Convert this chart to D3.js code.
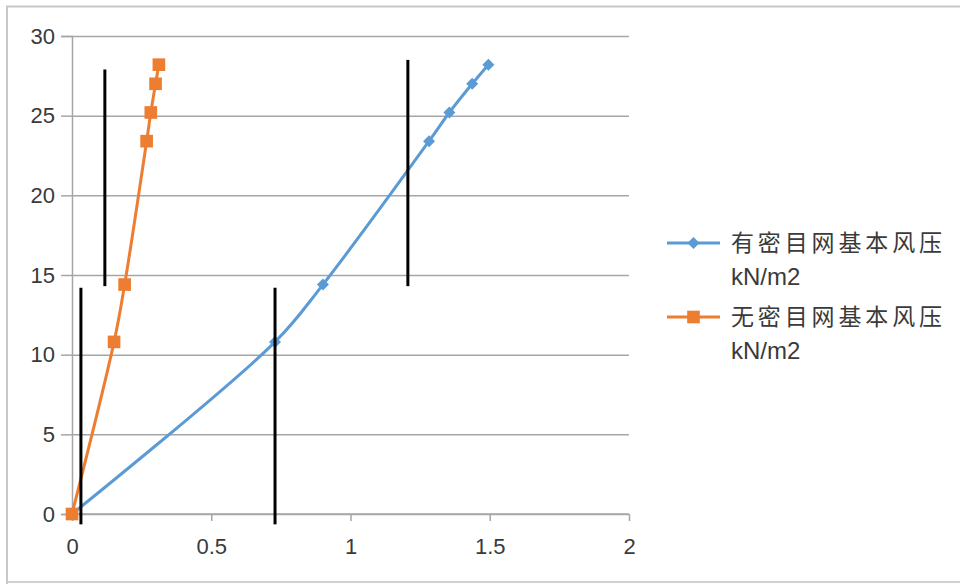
<!DOCTYPE html>
<html><head><meta charset="utf-8">
<script src="https://cdn.jsdelivr.net/npm/d3@7/dist/d3.min.js"></script>
<style>
html,body{margin:0;padding:0;background:#fff;}
svg{display:block;font-family:"Liberation Sans","Open Sans",sans-serif;}
</style></head>
<body><svg id="chart" width="960" height="584"></svg>
<script>
// ---- data ----
const heights = [0, 10.8, 14.4, 23.4, 25.2, 27.0, 28.2];
const withNet = [0, 0.729, 0.901, 1.282, 1.355, 1.437, 1.495];
const withoutNet = [0, 0.151, 0.189, 0.268, 0.283, 0.300, 0.312];
const seriesNames = ["有密目网基本风压", "无密目网基本风压"];
const seriesUnit = "kN/m2";
const xTicks = [0, 0.5, 1, 1.5, 2];
const yTicks = [0, 5, 10, 15, 20, 25, 30];
// hand-drawn black annotation marks (data coords)
const markX = [0.118, 1.206, 0.032, 0.729];
const markY1 = [27.9, 28.5, 14.2, 14.2];
const markY2 = [14.3, 14.3, -0.65, -0.65];

const colors = ["#5B9BD5", "#ED7D31"];
const textColor = "#3a3a3a";
const svg = d3.select("#chart");

// outer border
svg.append("path").attr("d","M7,584 L7,6.5 L960,6.5").attr("fill","none").attr("stroke","#c8c8c8").attr("stroke-width",2);
svg.append("line").attr("x1",7).attr("x2",960).attr("y1",582).attr("y2",582).attr("stroke","#d0d0d0").attr("stroke-width",2);

const x = d3.scaleLinear().domain([0,2]).range([72,629]);
const y = d3.scaleLinear().domain([0,30]).range([514,36]);

// gridlines + y axis
const yAxis = d3.axisLeft(y).tickValues(yTicks).tickSize(11).tickPadding(6).tickFormat(d3.format("d"));
const gy = svg.append("g").attr("transform","translate(72,0)").call(yAxis);
gy.select(".domain").attr("stroke","#a6a6a6").attr("stroke-width",1.5);
gy.selectAll(".tick line").clone().attr("x2", 629-72).attr("x1",0);
gy.selectAll(".tick line").attr("stroke","#a6a6a6").attr("stroke-width",1.5);
gy.selectAll(".tick text").attr("fill",textColor).style("font-size","22px").attr("font-family","Liberation Sans, sans-serif");

const xAxis = d3.axisBottom(x).tickValues(xTicks).tickSize(7).tickPadding(17).tickFormat(d=>String(d));
const gx = svg.append("g").attr("transform","translate(0,514)").call(xAxis);
gx.select(".domain").attr("stroke","#a6a6a6").attr("stroke-width",1.5).attr("d","M72,0H629");
gx.selectAll(".tick line").attr("stroke","#a6a6a6").attr("stroke-width",1.5);
gx.selectAll(".tick text").attr("fill",textColor).style("font-size","22px").attr("font-family","Liberation Sans, sans-serif");

// series
const series = [withNet, withoutNet];
const line = d3.line().x(d=>x(d[0])).y(d=>y(d[1])).curve(d3.curveCatmullRom.alpha(0.5));
const symFor = i => i===0 ? d3.symbol().type(d3.symbolSquare).size(72) : d3.symbol().type(d3.symbolSquare).size(160);
const rotFor = i => i===0 ? " rotate(45)" : "";
series.forEach((vals,i)=>{
  const pts = vals.map((v,j)=>[v, heights[j]]);
  svg.append("path").datum(pts).attr("d",line).attr("fill","none").attr("stroke",colors[i]).attr("stroke-width",3);
  svg.append("g").selectAll("path").data(pts).join("path")
    .attr("transform",d=>`translate(${x(d[0])},${y(d[1])})${rotFor(i)}`)
    .attr("d",symFor(i)).attr("fill",colors[i]);
});

// annotation marks
svg.append("g").selectAll("line").data(markX).join("line")
  .attr("x1",d=>x(d)).attr("x2",d=>x(d))
  .attr("y1",(d,i)=>y(markY1[i])).attr("y2",(d,i)=>y(markY2[i]))
  .attr("stroke","#000").attr("stroke-width",3);

// legend
const legY = [243, 317];
seriesNames.forEach((name,i)=>{
  const g = svg.append("g");
  g.append("line").attr("x1",667).attr("x2",720).attr("y1",legY[i]).attr("y2",legY[i]).attr("stroke",colors[i]).attr("stroke-width",3);
  g.append("path").attr("transform",`translate(693.5,${legY[i]})${rotFor(i)}`).attr("d",symFor(i)).attr("fill",colors[i]);
  g.append("text").attr("x",731).attr("y",legY[i]+8).attr("textLength",211).attr("lengthAdjust","spacing")
    .attr("font-family","Noto Sans CJK SC, sans-serif").style("font-size","23px").attr("fill",textColor).text(name);
  g.append("text").attr("x",731).attr("y",legY[i]+42).attr("font-family","Liberation Sans, sans-serif")
    .style("font-size","24px").attr("fill",textColor).text(seriesUnit);
});
</script></body></html>
